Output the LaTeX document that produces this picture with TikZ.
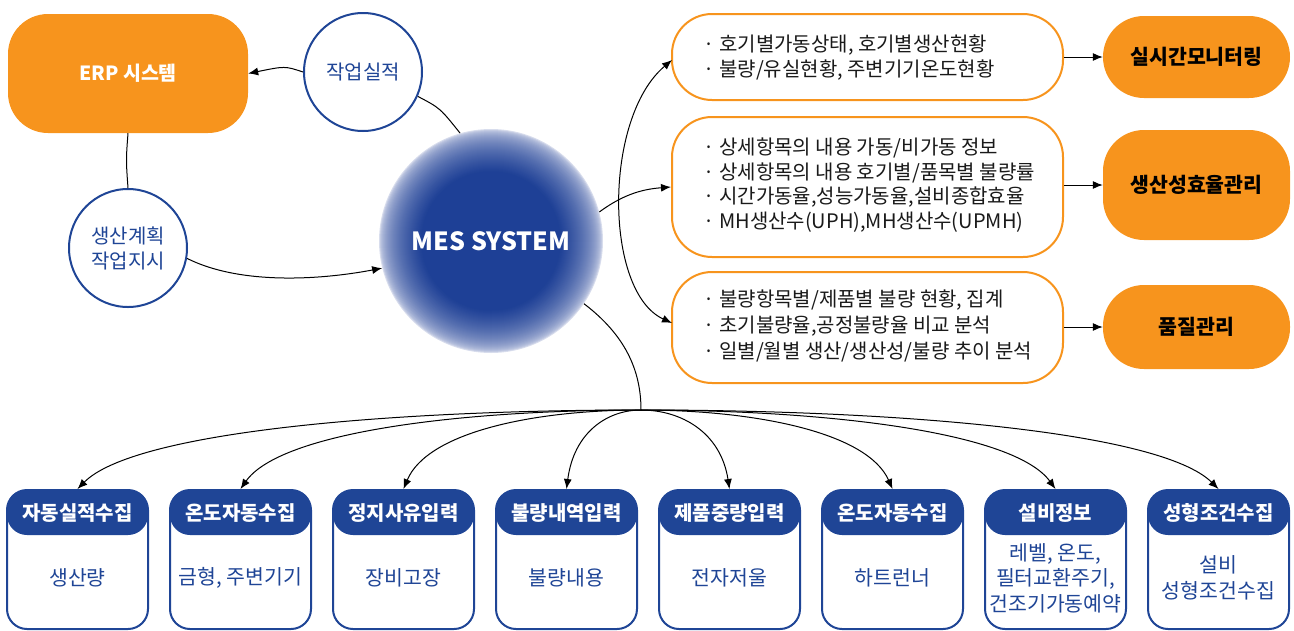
\documentclass[tikz,border=0pt]{standalone}
\usepackage{fontspec}
\setmainfont{Noto Sans CJK KR}
\usetikzlibrary{arrows.meta}
\definecolor{org}{HTML}{F7941D}
\definecolor{blu}{HTML}{1F4596}
\definecolor{txt}{HTML}{1A1A1A}
\definecolor{sphA}{HTML}{1E4096}
\definecolor{sphE}{HTML}{ECEDF6}
\begin{document}
\begin{tikzpicture}[x=1pt,y=-1pt,
  arr/.style={-{Latex[length=10pt,width=8pt]}, line width=1pt, black},
  darr/.style={{Latex[length=10pt,width=8pt]}-{Latex[length=10pt,width=8pt]}, line width=1pt, black},
  ln/.style={line width=1pt, black},
  erpbox/.style={fill=org, draw=none, rounded corners=40pt, minimum width=240pt, minimum height=119pt, text=white, font=\bfseries\fontsize{19.5}{22}\selectfont},
  bcirc/.style={circle, draw=blu, line width=2pt, fill=white, minimum size=118pt, inner sep=0pt, text=blu, align=center, font=\fontsize{20}{25}\selectfont},
  sphnode/.style={circle, minimum size=224pt, inner sep=0pt, text=white, font=\bfseries\fontsize{25}{28}\selectfont},
  infobox/.style={draw=org, line width=2pt, fill=white, rounded corners=40pt, minimum width=391pt},
  infotxt/.style={anchor=west, align=left, text=txt, font=\fontsize{20}{25}\selectfont},
  resbox/.style={fill=org, draw=none, rounded corners=41pt, minimum width=187pt, text=black, font=\bfseries\fontsize{20.5}{24}\selectfont},
  cardbox/.style={draw=blu, line width=2pt, fill=white, rounded corners=20pt, minimum width=141pt, minimum height=139pt, inner sep=0pt,
     path picture={\fill[blu] (path picture bounding box.north west) rectangle ([yshift=-45pt]path picture bounding box.north east);}},
  cardhead/.style={text=white, font=\bfseries\fontsize{20}{24}\selectfont},
  cardbody/.style={text=blu, align=center, font=\fontsize{20.5}{25.5}\selectfont}
]
\useasboundingbox (0,0) rectangle (1294,630);

% left side
\node[erpbox] (erp) at (128,73.5) {ERP 시스템};
\node[bcirc] (res) at (363,72) {작업실적};
\node[bcirc] (plan) at (128,248) {생산계획\\작업지시};

% MES sphere: soft-edged blue ball
\foreach \r in {112,111,...,66}{
  \pgfmathsetmacro{\p}{100*min(1,(1.002-\r/112)/0.38)^0.45}
  \fill[sphA!\p!sphE] (491,241) circle[radius=\r];
}
\node[sphnode] (mes) at (491,241) {MES SYSTEM};

\draw[arr] (res.west) .. controls (285,66) .. (erp.east);
\draw[ln] (res.-24) .. controls (440,108) .. (mes.106);
\draw[ln] (erp.south) .. controls (126,160) .. (plan.north);
\draw[arr] (plan.-10) .. controls (240,285) and (320,280) .. (mes.194);

% right side info boxes
\node[infobox, minimum height=86pt] (b1) at (867.5,57) {};
\node[infobox, minimum height=140pt] (b2) at (867.5,187) {};
\node[infobox, minimum height=111pt] (b3) at (867.5,327.5) {};
\node[infotxt] (t1) at (700,57.5) {· 호기별가동상태, 호기별생산현황\\· 불량/유실현황, 주변기기온도현황};
\node[infotxt, font=\fontsize{20}{24.7}\selectfont] (t2) at (700,185) {· 상세항목의 내용 가동/비가동 정보\\· 상세항목의 내용 호기별/품목별 불량률\\· 시간가동율,성능가동율,설비종합효율\\· MH생산수(UPH),MH생산수(UPMH)};
\node[infotxt, font=\fontsize{20}{26}\selectfont] (t3) at (700,326) {· 불량항목별/제품별 불량 현황, 집계\\· 초기불량율,공정불량율 비교 분석\\· 일별/월별 생산/생산성/불량 추이 분석};

\node[resbox, minimum height=82pt] (m1) at (1196.5,57) {실시간모니터링};
\node[resbox, minimum height=110pt] (m2) at (1196.5,185) {생산성효율관리};
\node[resbox, minimum height=84pt] (m3) at (1196.5,327) {품질관리};

\draw[arr] (b1.east) -- (m1.west);
\draw[arr] (b2.east |- m2.west) -- (m2.west);
\draw[arr] (b3.east |- m3.west) -- (m3.west);

\coordinate (b1in) at (672,60);
\coordinate (b3in) at (672,323);
\draw[darr] (b1in) .. controls (603,118) and (604,292) .. (b3in);
\draw[arr] (mes.15) .. controls (625,193) and (645,189) .. (b2.west);

% hub and bottom cards
\coordinate (hub) at (641,410);
\draw[ln] (mes.-34) .. controls (625,335) and (641,370) .. (hub);

\foreach \i/\x/\h/\b in {
  1/77.5/자동실적수집/생산량,
  2/240.5/온도자동수집/{금형, 주변기기},
  3/403.5/정지사유입력/장비고장,
  4/566.5/불량내역입력/불량내용,
  5/729.5/제품중량입력/전자저울,
  6/892.5/온도자동수집/하트런너,
  7/1055.5/설비정보/{레벨, 온도,\\필터교환주기,\\건조기가동예약},
  8/1218.5/성형조건수집/{설비\\성형조건수집}} {
  \node[cardbox] (k\i) at (\x,559.5) {};
  \node[cardhead] (h\i) at (\x,513) {\h};
  \node[cardbody] (c\i) at (\x,578) {\b};
  \pgfmathsetmacro{\cx}{\x+0.55*(641-\x)}
  \pgfmathsetmacro{\dx}{\x+0.1*(641-\x)}
  \draw[arr] (hub) .. controls (\cx,410) and (\dx,432) .. (k\i.north);
}
\end{tikzpicture}
\end{document}
